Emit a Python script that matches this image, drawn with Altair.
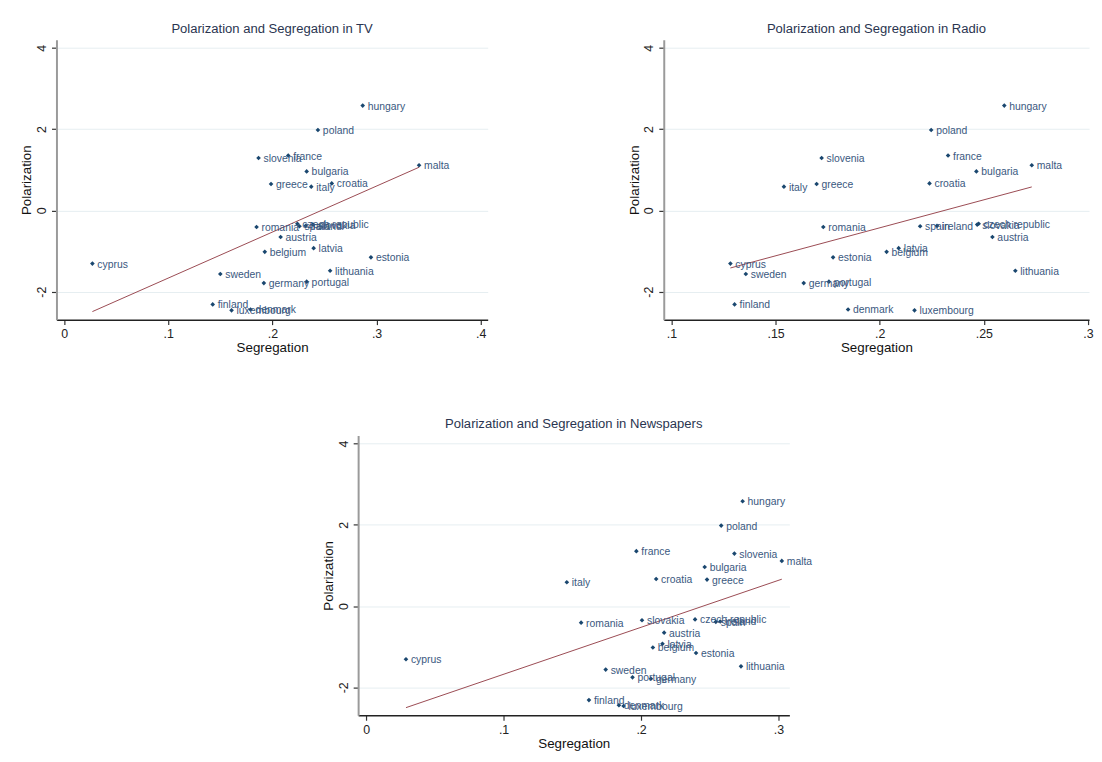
import altair as alt
import pandas as pd

countries = ["hungary", "poland", "france", "slovenia", "malta", "bulgaria", "croatia",
             "greece", "italy", "romania", "czech republic", "slovakia", "spain", "ireland",
             "austria", "latvia", "belgium", "estonia", "cyprus", "sweden", "lithuania",
             "germany", "portugal", "finland", "denmark", "luxembourg"]

polarization = [2.58, 1.98, 1.35, 1.29, 1.11, 0.96, 0.665, 0.65, 0.585, -0.41, -0.33, -0.35,
                -0.39, -0.38, -0.655, -0.93, -1.02, -1.155, -1.31, -1.565, -1.485, -1.79,
                -1.755, -2.315, -2.44, -2.46]

seg_tv = [0.2867, 0.2437, 0.2152, 0.1867, 0.3408, 0.2329, 0.2570, 0.1987, 0.2373, 0.1848,
          0.2240, 0.2390, 0.2260, 0.2320, 0.2079, 0.2396, 0.1927, 0.2946, 0.0272, 0.1500,
          0.2554, 0.1918, 0.2329, 0.1427, 0.1790, 0.1608]

seg_radio = [0.2598, 0.2247, 0.2328, 0.1721, 0.2730, 0.2464, 0.2239, 0.1697, 0.1540, 0.1729,
             0.2475, 0.2468, 0.2194, 0.2275, 0.2541, 0.2091, 0.2033, 0.1776, 0.1283, 0.1357,
             0.2651, 0.1635, 0.1756, 0.1303, 0.1848, 0.2167]

seg_news = [0.2739, 0.2583, 0.1966, 0.2679, 0.3024, 0.2463, 0.2110, 0.2480, 0.1460, 0.1564,
            0.2393, 0.2007, 0.2544, 0.2576, 0.2168, 0.2156, 0.2086, 0.2400, 0.0290, 0.1743,
            0.2727, 0.2072, 0.1938, 0.1621, 0.1839, 0.1873]

y_ticks = [-2, 0, 2, 4]
tv_ticks = [0, 0.1, 0.2, 0.3, 0.4]
radio_ticks = [0.1, 0.15, 0.2, 0.25, 0.3]
news_ticks = [0, 0.1, 0.2, 0.3]

FONT = "Liberation Sans"
NAVY = "#1a476f"
LABEL = "#3a5880"
FIT = "#9a4a52"
PLOT_H = 283
Y_DOMAIN = [-2.69, 4.2]


def panel(seg, title, xdomain, width, xticks):
    df = pd.DataFrame({"country": countries, "seg": seg, "pol": polarization})
    x = alt.X("seg:Q", title="Segregation",
              scale=alt.Scale(domain=xdomain, nice=False, zero=False),
              axis=alt.Axis(values=xticks, grid=False, domainColor="#222222", domainWidth=1.5,
                            tickColor="#333333", tickSize=5, tickWidth=1.2,
                            labelExpr="replace(datum.value + '', '0.', '.')",
                            labelFontSize=12.5, labelColor="#222222", labelPadding=3,
                            titleFontSize=13.5, titleColor="#111111", titleFontWeight="normal",
                            titlePadding=1))
    y = alt.Y("pol:Q", title="Polarization",
              scale=alt.Scale(domain=Y_DOMAIN, nice=False, zero=False),
              axis=alt.Axis(values=y_ticks, grid=True, gridColor="#e6eef1", gridWidth=1,
                            domainColor="#9a9a9a", domainWidth=2,
                            tickColor="#333333", tickSize=5, tickWidth=1.2,
                            labelExpr="datum.value + ''", labelAngle=270,
                            labelAlign="center", labelBaseline="bottom",
                            labelFontSize=12.5, labelColor="#222222", labelPadding=3,
                            titleFontSize=13.5, titleColor="#111111", titleFontWeight="normal",
                            titlePadding=2))
    base = alt.Chart(df)
    pts = base.mark_point(shape="diamond", filled=True, size=22, color=NAVY, opacity=1).encode(x=x, y=y)
    lbl = base.mark_text(align="left", baseline="middle", dx=5, dy=1, fontSize=10.5,
                         font=FONT, color=LABEL).encode(x=x, y=y, text="country:N")
    fit = base.transform_regression("seg", "pol").mark_line(
        color=FIT, strokeWidth=1).encode(x=x, y=y)
    return alt.layer(fit, pts, lbl).properties(
        width=width, height=PLOT_H,
        title=alt.TitleParams(title, fontSize=13.2, font=FONT, color="#2a3550",
                              fontWeight="normal", offset=4, anchor="middle"))


tv = panel(seg_tv, "Polarization and Segregation in TV", [-0.0073, 0.4067], 436, tv_ticks)
radio = panel(seg_radio, "Polarization and Segregation in Radio", [0.0963, 0.3005], 430, radio_ticks)
news = panel(seg_news, "Polarization and Segregation in Newspapers", [-0.0058, 0.3079], 436, news_ticks)

spacer = alt.Chart(pd.DataFrame({"a": [0]})).mark_point(opacity=0).encode(
    x=alt.X("a:Q", axis=None), y=alt.Y("a:Q", axis=None)).properties(width=305, height=PLOT_H)

top = alt.hconcat(tv, radio, spacing=178, bounds="flush")
bottom = alt.hconcat(spacer, news, spacing=0, bounds="flush")

chart = alt.vconcat(top, bottom, spacing=63).properties(
    padding={"left": 12, "top": 9, "right": 0, "bottom": 0}
).configure(font=FONT).configure_view(strokeWidth=0)

chart.save("out.html", embed_options={"renderer": "svg", "actions": False})
